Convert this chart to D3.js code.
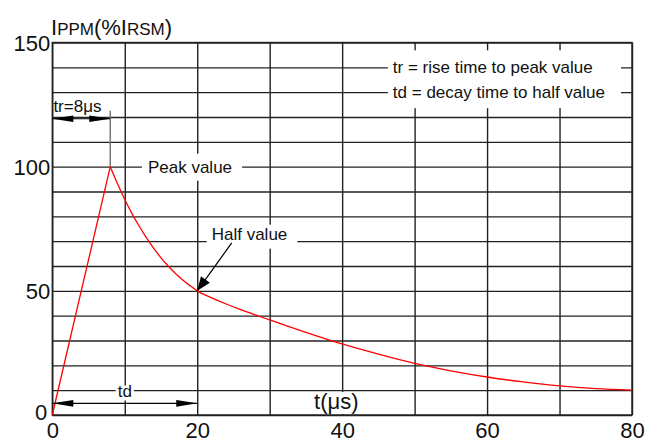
<!DOCTYPE html>
<html>
<head>
<meta charset="utf-8">
<script src="https://cdn.jsdelivr.net/npm/d3@7"></script>
<style>
  body { margin: 0; background: #fff; }
  svg { font-family: "Liberation Sans", Arial, sans-serif; }
</style>
</head>
<body>
<script>
// pulse curve: time (µs) and current (% of IRSM)
var riseTime = [0, 8];
var riseValue = [0, 100];
var decayTime = [8, 9, 10, 11, 12, 13, 14, 15, 16, 17, 18, 19, 20, 22, 24, 26, 28, 30, 35, 40, 45, 50, 55, 60, 65, 70, 75, 80];
var decayValue = [100, 93.1, 86.8, 81.1, 76.0, 71.3, 67.1, 63.3, 60.0, 57.0, 54.4, 52.1, 50, 47.2, 44.7, 42.4, 40.3, 38.3, 33.3, 28.6, 24.5, 20.8, 17.8, 15.3, 13.3, 11.7, 10.6, 10];

// grid and tick labels
var xGridTicks = [0, 10, 20, 30, 40, 50, 60, 70, 80];
var xTickLabels = [0, 20, 40, 60, 80];
var yGridTicks = [0, 10, 20, 30, 40, 50, 60, 70, 80, 90, 100, 110, 120, 130, 140, 150];
var yTickLabels = [0, 50, 100, 150];

var width = 653;
var height = 443;
var paddingLeft = 52.3;
var paddingTop = 42.5;
var plotW = 579.7;
var plotH = 372.5;

var svg = d3.select("body").append("svg")
  .attr("width", width)
  .attr("height", height);

var g = svg.append("g")
  .attr("transform", "translate(" + paddingLeft + "," + paddingTop + ")");

var xScale = d3.scaleLinear().domain([0, 80]).range([0, plotW]);
var yScale = d3.scaleLinear().domain([0, 150]).range([plotH, 0]);

// grid lines
var gridColor = "#222";
var xGrid = g.append("g")
  .attr("transform", "translate(0," + plotH + ")")
  .call(d3.axisBottom(xScale).tickValues(xGridTicks).tickSize(-plotH).tickFormat(""));
var yGrid = g.append("g")
  .call(d3.axisLeft(yScale).tickValues(yGridTicks).tickSize(-plotW).tickFormat(""));
[xGrid, yGrid].forEach(function(ax) {
  ax.select(".domain").remove();
  ax.selectAll("line").attr("stroke", gridColor).attr("stroke-width", 1.4);
});

// tick labels
var xAxis = g.append("g")
  .attr("transform", "translate(0," + plotH + ")")
  .call(d3.axisBottom(xScale).tickValues(xTickLabels).tickSize(0).tickPadding(7));
var yAxis = g.append("g")
  .call(d3.axisLeft(yScale).tickValues(yTickLabels).tickSize(0).tickPadding(2));
[xAxis, yAxis].forEach(function(ax) {
  ax.select(".domain").remove();
  ax.selectAll("text")
    .attr("font-family", "'Liberation Sans', Arial, sans-serif")
    .attr("font-size", 22)
    .attr("fill", "#111");
});
yAxis.selectAll("text")
  .attr("dy", function(d) { return d === 0 ? "0.2em" : "0.36em"; })
  .attr("dx", function(d) { return d === 0 ? -3 : 0; });

// white boxes behind labels, then labels
var boxLayer = g.append("g");
var labelLayer = g.append("g");

function label(txt, t, v, opts) {
  var el = labelLayer.append("text")
    .attr("x", xScale(t))
    .attr("y", yScale(v))
    .attr("dy", opts.dy || 0)
    .attr("font-size", opts.size || 17)
    .attr("text-anchor", opts.anchor || "start")
    .attr("fill", "#111")
    .text(txt);
  return el;
}

function whiteBox(nodes, pad) {
  var x0 = Infinity, y0 = Infinity, x1 = -Infinity, y1 = -Infinity;
  nodes.forEach(function(n) {
    var b = n.node().getBBox();
    x0 = Math.min(x0, b.x); y0 = Math.min(y0, b.y);
    x1 = Math.max(x1, b.x + b.width); y1 = Math.max(y1, b.y + b.height);
  });
  boxLayer.append("rect")
    .attr("x", x0 - pad[0])
    .attr("y", y0 - pad[1])
    .attr("width", x1 - x0 + pad[0] + pad[2])
    .attr("height", y1 - y0 + pad[1] + pad[3])
    .attr("fill", "#fff");
}

var trLine = label("tr = rise time to peak value", 47.0, 140, {dy: 6});
var tdLine = label("td = decay time to half value", 47.0, 130, {dy: 6});
whiteBox([trLine, tdLine], [5, 8, 16, 6]);

var peakLabel = label("Peak value", 13.2, 100, {dy: 6});
whiteBox([peakLabel], [6, 4, 10, 4]);

var halfLabel = label("Half value", 22.0, 70, {dy: -1.5});
whiteBox([halfLabel], [5, 0, 10, 5]);

var tdLabel = label("td", 10, 7.05, {anchor: "middle"});
whiteBox([tdLabel], [2, -3, 2, -1]);

var tLabel = label("t(\u03bcs)", 39.2, 2.4, {anchor: "middle", size: 22});
whiteBox([tLabel], [4, -3, 4, 0]);

label("tr=8\u03bcs", 0.15, 122.2, {});

// frame
g.append("rect")
  .attr("width", plotW)
  .attr("height", plotH)
  .attr("fill", "none")
  .attr("stroke", gridColor)
  .attr("stroke-width", 1.4);

// title IPPM(%IRSM)
var title = svg.append("text")
  .attr("x", 51)
  .attr("y", 35.2)
  .attr("fill", "#111");
[["I", 22], ["PPM", 17], ["(%", 22], ["I", 22], ["RSM", 17], [")", 22]].forEach(function(p) {
  title.append("tspan").attr("font-size", p[1]).text(p[0]);
});

// tr marker line at peak time
g.append("line")
  .attr("x1", xScale(8)).attr("x2", xScale(8))
  .attr("y1", yScale(122.5)).attr("y2", yScale(100))
  .attr("stroke", "#777")
  .attr("stroke-width", 1.5);

// pulse curve
var line = d3.line()
  .x(function(d) { return xScale(d[0]); })
  .y(function(d) { return yScale(d[1]); });

g.append("path")
  .datum(d3.zip(riseTime, riseValue))
  .attr("d", line)
  .attr("fill", "none")
  .attr("stroke", "red")
  .attr("stroke-width", 1.3);

g.append("path")
  .datum(d3.zip(decayTime, decayValue))
  .attr("d", line.curve(d3.curveMonotoneX))
  .attr("fill", "none")
  .attr("stroke", "red")
  .attr("stroke-width", 1.3);

// arrows
function arrowHead(tip, from, len, half) {
  var dx = tip[0] - from[0], dy = tip[1] - from[1];
  var d = Math.sqrt(dx * dx + dy * dy);
  var ux = dx / d, uy = dy / d;
  var bx = tip[0] - ux * len, by = tip[1] - uy * len;
  g.append("path")
    .attr("d", "M" + tip[0] + "," + tip[1] +
      "L" + (bx - uy * half) + "," + (by + ux * half) +
      "L" + (bx + uy * half) + "," + (by - ux * half) + "Z")
    .attr("fill", "#000");
}

function arrow(t0, v0, t1, v1, len, half, both) {
  var a = [xScale(t0), yScale(v0)];
  var b = [xScale(t1), yScale(v1)];
  g.append("line")
    .attr("x1", a[0]).attr("y1", a[1])
    .attr("x2", b[0]).attr("y2", b[1])
    .attr("stroke", "#000")
    .attr("stroke-width", 1.2);
  arrowHead(b, a, len, half);
  if (both) arrowHead(a, b, len, half);
}

arrow(0, 119.3, 8, 119.3, 21, 3.2, true);
arrow(0, 4.7, 20, 4.7, 21, 3.4, true);
arrow(24.76, 69.3, 20, 50, 14, 5.5, false);
</script>
</body>
</html>
